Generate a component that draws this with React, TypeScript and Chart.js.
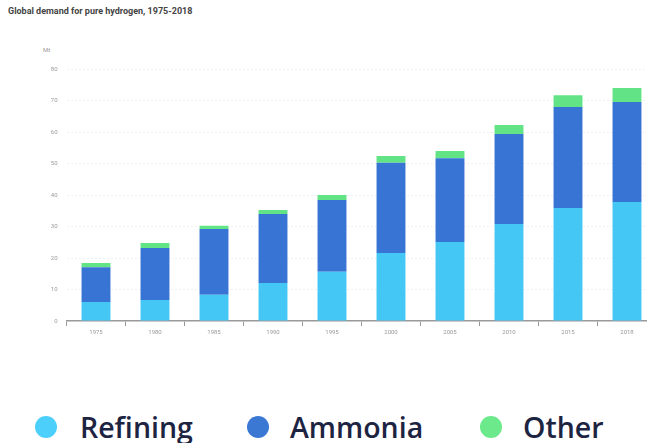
import React, { useEffect, useRef } from "react";
import { Chart, registerables } from "chart.js";

Chart.register(...registerables);

const categories = ["1975", "1980", "1985", "1990", "1995", "2000", "2005", "2010", "2015", "2018"];
const refining = [6.0, 6.7, 8.3, 12.1, 15.6, 21.6, 25.1, 30.8, 35.9, 37.8];
const ammonia = [11.1, 16.5, 20.9, 21.9, 22.8, 28.6, 26.6, 28.6, 32.0, 31.7];
const other = [1.3, 1.6, 1.0, 1.2, 1.6, 2.2, 2.3, 2.8, 3.8, 4.5];
const seriesNames = ["Refining", "Ammonia", "Other"];
const barColors = ["#45c7f5", "#3874d3", "#62e486"];
const legendColors = ["#4dcffc", "#3a78d4", "#6ce98a"];

const CANVAS_W = 660;
const CANVAS_H = 345;

export default function App() {
  const ref = useRef<HTMLCanvasElement | null>(null);

  useEffect(() => {
    if (!ref.current) return;
    const chart = new Chart(ref.current, {
      type: "bar",
      data: {
        labels: categories,
        datasets: [refining, ammonia, other].map((d, i) => ({
          label: seriesNames[i],
          data: d,
          backgroundColor: barColors[i],
          borderWidth: 0,
          barPercentage: 0.49,
          categoryPercentage: 1,
        })),
      },
      options: {
        animation: false,
        responsive: false,
        maintainAspectRatio: false,
        layout: { padding: { left: 0, right: 3.5, top: 69, bottom: 0 } },
        plugins: {
          legend: { display: false },
          tooltip: { enabled: false },
          title: { display: false },
        },
        scales: {
          x: {
            stacked: true,
            afterFit: (s: any) => {
              s.height = CANVAS_H - 321;
            },
            grid: {
              offset: true,
              drawOnChartArea: false,
              drawTicks: true,
              tickLength: 5,
              color: "#999",
            },
            border: { color: "#9a9a9a", width: 1.5 },
            ticks: {
              color: "#999",
              font: { family: "Roboto", size: 6 },
              padding: 3,
            },
          },
          y: {
            stacked: true,
            min: 0,
            max: 80,
            afterFit: (s: any) => {
              s.width = 66.5;
            },
            ticks: {
              stepSize: 10,
              color: "#9a9a9a",
              font: { family: "Roboto", size: 6 },
              padding: 9,
            },
            grid: {
              drawTicks: false,
              color: (ctx: any) => (ctx.tick && ctx.tick.value === 0 ? "rgba(0,0,0,0)" : "#f1f1f1"),
            },
            border: { display: false, dash: [2, 2] },
          },
        },
      },
    });
    return () => chart.destroy();
  }, []);

  return (
    <div
      style={{
        position: "fixed",
        left: 0,
        top: 0,
        width: 647,
        height: 443,
        overflow: "hidden",
        background: "#fff",
        fontFamily: "Roboto, sans-serif",
      }}
    >
      <div
        style={{
          position: "absolute",
          left: 8,
          top: 6,
          fontSize: 9,
          fontWeight: 700,
          color: "#444",
          whiteSpace: "nowrap",
        }}
      >
        Global demand for pure hydrogen, 1975-2018
      </div>
      <div
        style={{
          position: "absolute",
          left: 43,
          top: 46,
          fontSize: 6,
          color: "#999",
        }}
      >
        Mt
      </div>
      <canvas
        ref={ref}
        width={CANVAS_W}
        height={CANVAS_H}
        style={{ position: "absolute", left: 0, top: 0, width: CANVAS_W, height: CANVAS_H }}
      />
      {seriesNames.map((name, i) => {
        const cx = [46, 258, 491][i];
        const tx = [80, 290, 523][i];
        return (
          <React.Fragment key={name}>
            <div
              style={{
                position: "absolute",
                left: cx - 11,
                top: 427 - 11,
                width: 22,
                height: 22,
                borderRadius: "50%",
                background: legendColors[i],
              }}
            />
            <div
              style={{
                position: "absolute",
                left: tx,
                top: 427 - 19,
                height: 38,
                lineHeight: "38px",
                fontSize: 28.5,
                fontWeight: 600,
                fontFamily: "'Open Sans', sans-serif",
                color: "#1d2442",
                whiteSpace: "nowrap",
              }}
            >
              {name}
            </div>
          </React.Fragment>
        );
      })}
    </div>
  );
}
